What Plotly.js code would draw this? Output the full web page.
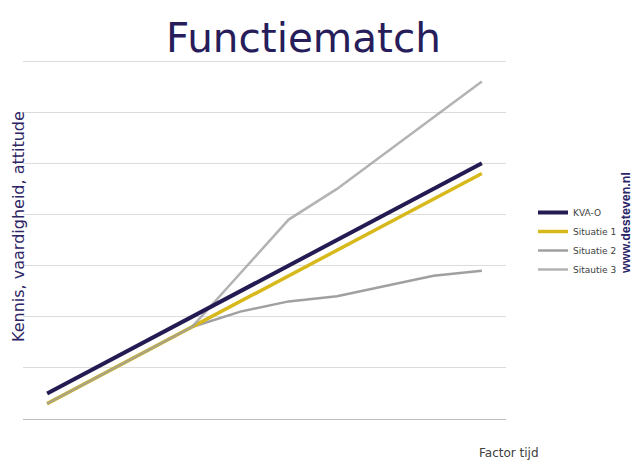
<!DOCTYPE html>
<html>
<head>
<meta charset="utf-8">
<script src="https://cdn.plot.ly/plotly-3.0.1.min.js"></script>
<style>html,body{margin:0;padding:0;background:#fff;}#chart{width:640px;height:470px;}</style>
</head>
<body>
<div id="chart"></div>
<script>
// Data
const periods = ['1', '2', '3', '4', '5', '6', '7', '8', '9', '10'];
const kvaO      = [5, 10, 15, 20, 25, 30, 35, 40, 45, 50];
const situatie1 = [3, 8, 13, 18, 23, 28, 33, 38, 43, 48];
const situatie2 = [3, 8, 13, 18, 21, 23, 24, 26, 28, 29];
const situatie3 = [3, 8, 13, 18, 28.5, 39, 45, 52, 59, 66];
const seriesNames = ['KVA-O', 'Situatie 1', 'Situatie 2', 'Sitautie 3'];

// drawing order: Situatie 2, Situatie 1, Sitautie 3, KVA-O (legend order kept with legendrank)
const traces = [
  {x: periods, y: situatie2, name: seriesNames[2], type: 'scatter', mode: 'lines', legendrank: 3,
   line: {color: '#a0a0a0', width: 2.5}},
  {x: periods, y: situatie1, name: seriesNames[1], type: 'scatter', mode: 'lines', legendrank: 2,
   line: {color: '#d8b91c', width: 3.5}},
  {x: periods, y: situatie3, name: seriesNames[3], type: 'scatter', mode: 'lines', legendrank: 4,
   line: {color: 'rgba(158,158,158,0.78)', width: 2.5}},
  {x: periods, y: kvaO, name: seriesNames[0], type: 'scatter', mode: 'lines', legendrank: 1,
   line: {color: '#231b52', width: 4}}
];

const W = 640, H = 470;
const mL = 23, mR = 134, mT = 59, mB = 51;
const pw = W - mL - mR, ph = H - mT - mB;
const px = v => (v - mL) / pw;
const py = v => (H - mB - v) / ph;

const layout = {
  width: W, height: H,
  margin: {l: mL, r: mR, t: mT, b: mB, pad: 0},
  paper_bgcolor: '#ffffff', plot_bgcolor: '#ffffff',
  font: {family: 'DejaVu Sans, Verdana, sans-serif', color: '#404040'},
  title: {text: 'Functiematch', font: {family: 'DejaVu Sans, Verdana, sans-serif', size: 40.5, color: '#271d5a'},
          x: 303.5 / W, xanchor: 'center', y: 1 - 38 / H, yanchor: 'middle'},
  xaxis: {type: 'category', range: [-0.5, 9.5], showticklabels: false, showgrid: false, zeroline: false,
          ticks: '', showline: false, fixedrange: true},
  yaxis: {range: [0, 70.4], dtick: 10, tick0: 0, showticklabels: false, ticks: '',
          showgrid: true, gridcolor: '#dcdcdc', gridwidth: 1,
          zeroline: true, zerolinecolor: '#bdbdbd', zerolinewidth: 1, showline: false},
  showlegend: true,
  legend: {x: px(533), xanchor: 'left', y: py(198), yanchor: 'top', traceorder: 'normal',
           font: {family: 'DejaVu Sans, Verdana, sans-serif', size: 9, color: '#404040'},
           bgcolor: 'rgba(0,0,0,0)', tracegroupgap: 0},
  annotations: [
    {text: 'Kennis, vaardigheid, attitude', xref: 'paper', yref: 'paper',
     x: px(18), y: py(227), xanchor: 'center', yanchor: 'middle', textangle: -90, showarrow: false,
     font: {family: 'DejaVu Sans, Verdana, sans-serif', size: 16, color: '#2e2664'}},
    {text: 'Factor tijd', xref: 'paper', yref: 'paper',
     x: px(509), y: py(453), xanchor: 'center', yanchor: 'middle', showarrow: false,
     font: {family: 'DejaVu Sans, Verdana, sans-serif', size: 12, color: '#404040'}},
    {text: '<b>www.desteven.nl</b>', xref: 'paper', yref: 'paper',
     x: px(626), y: py(223), xanchor: 'center', yanchor: 'middle', textangle: -90, showarrow: false,
     font: {family: 'Liberation Sans, Arial, sans-serif', size: 12.5, color: '#2b2468'}}
  ]
};

Plotly.newPlot('chart', traces, layout, {displayModeBar: false, staticPlot: true});
</script>
</body>
</html>
